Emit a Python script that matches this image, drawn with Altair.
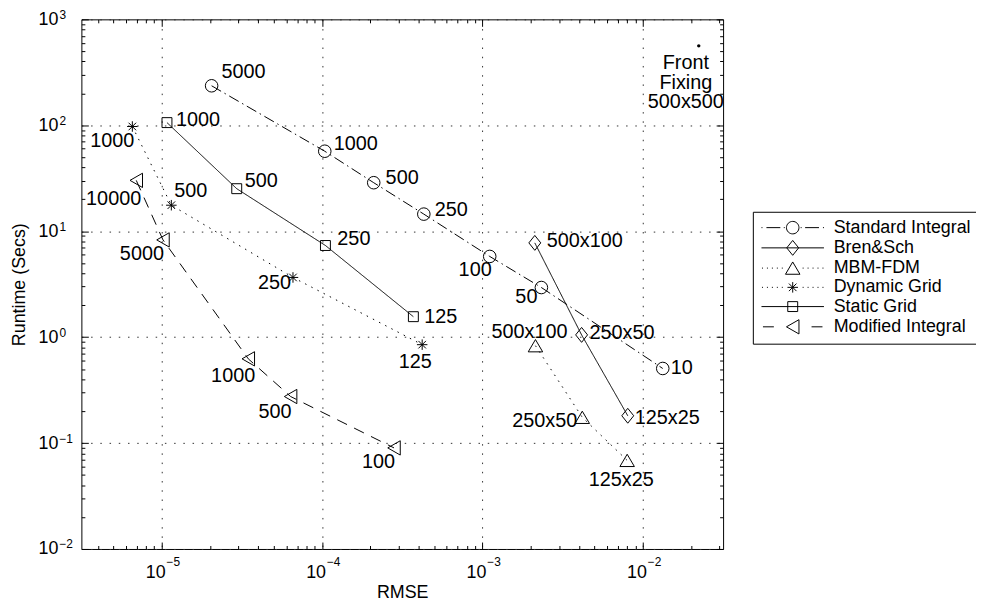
import math
import altair as alt
import pandas as pd

# ---------------- data ----------------
SERIES = ["Standard Integral", "Bren&Sch", "MBM-FDM", "Dynamic Grid", "Static Grid", "Modified Integral"]

STD_RMSE = [2.05e-5, 1.04e-4, 2.10e-4, 4.31e-4, 1.11e-3, 2.33e-3, 1.33e-2]
STD_TIME = [236, 56.9, 28.7, 14.5, 5.78, 2.94, 0.506]
STD_LABELS = ["5000", "1000", "500", "250", "100", "50", "10"]

BREN_RMSE = [2.12e-3, 4.15e-3, 8.05e-3]
BREN_TIME = [7.76, 1.05, 0.181]
BREN_LABELS = ["500x100", "250x50", "125x25"]

MBM_RMSE = [2.14e-3, 4.19e-3, 7.98e-3]
MBM_TIME = [0.83, 0.175, 0.0686]
MBM_LABELS = ["500x100", "250x50", "125x25"]

DYN_RMSE = [6.57e-6, 1.15e-5, 6.59e-5, 4.21e-4]
DYN_TIME = [97.4, 17.6, 3.66, 0.849]
DYN_LABELS = ["1000", "500", "250", "125"]

STATIC_RMSE = [1.08e-5, 2.94e-5, 1.05e-4, 3.71e-4]
STATIC_TIME = [106, 25.2, 7.33, 1.56]
STATIC_LABELS = ["1000", "500", "250", "125"]

MOD_RMSE = [6.95e-6, 1.02e-5, 3.47e-5, 6.37e-5, 2.81e-4]
MOD_TIME = [30.2, 8.28, 0.624, 0.275, 0.090]
MOD_LABELS = ["10000", "5000", "1000", "500", "100"]

FRONT_RMSE = [2.23e-2]
FRONT_TIME = [562]
FRONT_LABEL = ["Front\nFixing\n500x500"]

X_DECADES = [1e-5, 1e-4, 1e-3, 1e-2]
X_EXPONENTS = ["\u22125", "\u22124", "\u22123", "\u22122"]
Y_DECADES = [1e-2, 1e-1, 1, 10, 100, 1000]
Y_EXPONENTS = ["\u22122", "\u22121", "0", "1", "2", "3"]

# ---------------- styling (label placement: align, dx, dy in px) ----------------
PLACEMENT = {
    "Standard Integral": [("left", 10, -14), ("left", 9, -7), ("left", 12, -5), ("left", 11, -4),
                          ("right", 2, 14), ("right", -4, 10), ("left", 8, 0)],
    "Bren&Sch": [("left", 12, -2), ("left", 8, -2), ("left", 7, 2)],
    "MBM-FDM": [("center", -6, -14), ("right", -5, 4), ("center", -6, 20)],
    "Dynamic Grid": [("right", 2, 15), ("left", 3, -14), ("right", -2, 6), ("center", -7, 18)],
    "Static Grid": [("left", 9, -3), ("left", 8, -8), ("left", 12, -7), ("left", 11, 0)],
    "Modified Integral": [("right", 5, 19), ("right", 1, 14), ("right", 7, 17), ("right", 1, 16), ("right", 1, 14)],
}

FONT = "Liberation Sans"
PLOT_W, PLOT_H = 647, 534
X_DOMAIN = [10 ** -5.5, 10 ** -1.5]
Y_DOMAIN = [1e-2, 1e3]
PX_PER_DEC_X = PLOT_W / (math.log10(X_DOMAIN[1]) - math.log10(X_DOMAIN[0]))
PX_PER_DEC_Y = PLOT_H / (math.log10(Y_DOMAIN[1]) - math.log10(Y_DOMAIN[0]))

SOURCES = [
    (SERIES[0], STD_RMSE, STD_TIME, STD_LABELS),
    (SERIES[1], BREN_RMSE, BREN_TIME, BREN_LABELS),
    (SERIES[2], MBM_RMSE, MBM_TIME, MBM_LABELS),
    (SERIES[3], DYN_RMSE, DYN_TIME, DYN_LABELS),
    (SERIES[4], STATIC_RMSE, STATIC_TIME, STATIC_LABELS),
    (SERIES[5], MOD_RMSE, MOD_TIME, MOD_LABELS),
]
rows = []
for name, xs, ys, labs in SOURCES:
    for i, (xv, yv, lab) in enumerate(zip(xs, ys, labs)):
        al, dx, dy = PLACEMENT[name][i]
        rows.append({"series": name, "rmse": xv, "time": yv, "label": lab,
                     "align": al, "dx": dx, "dy": dy, "idx": i})
df = pd.DataFrame(rows)
df_front = pd.DataFrame({"rmse": FRONT_RMSE, "time": FRONT_TIME, "label": FRONT_LABEL})
df_series = pd.DataFrame({"series": SERIES})

# ---------------- marker shapes (pixel geometry -> vega unit paths) ----------------
SYM_SIZE = 160
U = math.sqrt(SYM_SIZE) / 2.0


def n(v):
    return f"{v / U:.4f}"


def poly(pts):
    return "M" + "L".join(f"{n(x)},{n(y)}" for x, y in pts) + "Z"


def segs(pairs):
    return "".join(f"M{n(a[0])},{n(a[1])}L{n(b[0])},{n(b[1])}" for a, b in pairs)


def hseg(x1, x2):
    return segs([((x1, 0), (x2, 0))])


def circ(r):
    return (f"M{n(-r)},0A{n(r)},{n(r)} 0 1,0 {n(r)},0"
            f"A{n(r)},{n(r)} 0 1,0 {n(-r)},0")


DIAMOND = poly([(0, -7.5), (6, 0), (0, 7.5), (-6, 0)])
TRI_UP = poly([(0, -6.2), (7.3, 6.2), (-7.3, 6.2)])
TRI_LEFT = poly([(-6.3, 0), (6.3, -7.2), (6.3, 7.2)])
SQUARE = poly([(-5, -5), (5, -5), (5, 5), (-5, 5)])
ASTER = segs([((0, -5.3), (0, 5.3)), ((-5.3, 0), (5.3, 0)),
              ((-3.8, -3.8), (3.8, 3.8)), ((-3.8, 3.8), (3.8, -3.8))])
CIRCLE = circ(6.3)

PLOT_SHAPES = ["circle", DIAMOND, TRI_UP, ASTER, SQUARE, TRI_LEFT]

DOTS = "".join(hseg(s * d - 0.5, s * d + 0.5) for d in (10.5, 15.5, 20.5, 25.5, 30.5) for s in (-1, 1))
LEGEND_SHAPES = [
    hseg(-31.5, -30.5) + hseg(-26.5, -12.5) + hseg(-9, -8) + hseg(8, 9) + hseg(12.5, 26.5) + hseg(30.5, 31.5) + CIRCLE,
    hseg(-31.5, 31.5) + DIAMOND,
    DOTS + TRI_UP,
    DOTS + ASTER,
    hseg(-31.5, 31.5) + SQUARE,
    hseg(-30, -19) + hseg(19, 30) + TRI_LEFT,
]
DASHES = [[11, 4, 1.5, 4], [1, 0], [1.5, 5.5], [1.5, 5.5], [1, 0], [11, 8]]

# ---------------- scales & axes ----------------
X_SCALE = alt.Scale(type="log", domain=X_DOMAIN, nice=False)
Y_SCALE = alt.Scale(type="log", domain=Y_DOMAIN, nice=False)


def minor(decade_exps, lo, hi):
    out = []
    for e in decade_exps:
        for k in range(2, 10):
            v = k * 10.0 ** e
            if lo < v < hi:
                out.append(v)
    return out


X_MINOR = minor(range(-6, -1), *X_DOMAIN)
Y_MINOR = minor(range(-2, 3), *Y_DOMAIN)


def exp_expr(values, exps):
    expr = f"'{exps[-1]}'"
    for v, e in reversed(list(zip(values[:-1], exps[:-1]))):
        expr = f"datum.value < {v * 3:.3g} ? '{e}' : ({expr})"
    return expr


def tick_axis(orient, values, size):
    return alt.Axis(orient=orient, values=values, ticks=True, tickSize=size, offset=-size,
                    tickColor="black", tickWidth=1, labels=False, domain=False,
                    grid=False, title=None)


GRID = dict(grid=True, gridColor="#333333", gridDash=[1.5, 7.8], gridWidth=1, gridOpacity=1)
LBL = dict(labelFont=FONT, labelColor="black", labelOverlap=False, labelFlush=False,
           ticks=False, tickSize=0, domain=False)

X_LABEL_AXIS = alt.Axis(orient="bottom", values=X_DECADES, labelExpr="'10'", labelFontSize=18,
                        labelPadding=14.5, labelOffset=-6.5, labelBaseline="top", labelAlign="center",
                        title="RMSE", titleFont=FONT, titleFontSize=18, titleFontWeight="normal",
                        titleColor="black", titlePadding=2, **GRID, **LBL)
X_EXP_AXIS = alt.Axis(orient="bottom", values=X_DECADES, labelExpr=exp_expr(X_DECADES, X_EXPONENTS),
                      labelFontSize=12, labelPadding=8, labelOffset=4.4, labelBaseline="top",
                      labelAlign="left", grid=False, title=None, **LBL)
Y_LABEL_AXIS = alt.Axis(orient="left", values=Y_DECADES, labelExpr="'10'", labelFontSize=18,
                        labelPadding=23.7, labelAlign="right", labelBaseline="middle",
                        title="Runtime (Secs)", titleFont=FONT, titleFontSize=18, titleFontWeight="normal",
                        titleColor="black", titlePadding=10, **GRID, **LBL)
Y_EXP_AXIS = alt.Axis(orient="left", values=Y_DECADES, labelExpr=exp_expr(Y_DECADES, Y_EXPONENTS),
                      labelFontSize=12, labelPadding=22.7, labelOffset=-5, labelAlign="left",
                      labelBaseline="middle", grid=False, title=None, **LBL)

# ---------------- layers ----------------
base = alt.Chart(df)


def xy(xaxis, yaxis, xf="rmse", yf="time"):
    return dict(x=alt.X(f"{xf}:Q", scale=X_SCALE, axis=xaxis),
                y=alt.Y(f"{yf}:Q", scale=Y_SCALE, axis=yaxis))


lines = base.mark_line(color="black", strokeWidth=1).encode(
    **xy(X_LABEL_AXIS, Y_LABEL_AXIS),
    detail="series:N",
    strokeDash=alt.StrokeDash("series:N", scale=alt.Scale(domain=SERIES, range=DASHES), legend=None),
    order="idx:Q",
)

points = base.mark_point(filled=False, opacity=1, size=SYM_SIZE, strokeWidth=1, color="black").encode(
    **xy(X_EXP_AXIS, Y_EXP_AXIS),
    shape=alt.Shape("series:N", scale=alt.Scale(domain=SERIES, range=PLOT_SHAPES), legend=None),
)


def label_layer(al, xaxis, yaxis):
    # pixel offsets converted through the log scales' pixels-per-decade
    return base.transform_filter(alt.datum.align == al).transform_calculate(
        lx=f"datum.rmse * pow(10, datum.dx / {PX_PER_DEC_X})",
        ly=f"datum.time * pow(10, -datum.dy / {PX_PER_DEC_Y})",
    ).mark_text(
        font=FONT, fontSize=20, color="black", align=al, baseline="middle"
    ).encode(
        **xy(xaxis, yaxis, "lx", "ly"),
        text="label:N",
    )


lab_left = label_layer("left", tick_axis("bottom", X_DECADES, 7), tick_axis("left", Y_DECADES, 7))
lab_right = label_layer("right", tick_axis("bottom", X_MINOR, 3.5), tick_axis("left", Y_MINOR, 3.5))
lab_center = label_layer("center", tick_axis("top", X_DECADES, 7), tick_axis("right", Y_DECADES, 7))

front_dot = alt.Chart(df_front).mark_circle(size=12, color="black", opacity=1).encode(
    **xy(tick_axis("top", X_MINOR, 3.5), tick_axis("right", Y_MINOR, 3.5)))
front_text = alt.Chart(df_front).mark_text(
    font=FONT, fontSize=20, lineHeight=20, color="black", align="center", baseline="top",
    lineBreak="\n", dx=-13, dy=7).encode(**xy(None, None), text="label:N")

legend_layer = alt.Chart(df_series).transform_filter("false").mark_point(
    filled=False, opacity=1, size=SYM_SIZE, strokeWidth=1, color="black"
).encode(
    shape=alt.Shape("series:N", scale=alt.Scale(domain=SERIES, range=LEGEND_SHAPES),
                    legend=alt.Legend(title=None, orient="none", legendX=677, legendY=194,
                                      padding=7, strokeColor="black", fillColor="white",
                                      labelFont=FONT, labelFontSize=18, labelColor="black",
                                      labelLimit=400, rowPadding=1.4,
                                      symbolSize=SYM_SIZE, symbolStrokeColor="black",
                                      symbolFillColor="transparent", symbolStrokeWidth=1,
                                      symbolOpacity=1, symbolOffset=24.2, labelOffset=32.3)),
)

chart = alt.layer(
    lines, points, lab_left, lab_right, lab_center, front_dot, front_text, legend_layer
).resolve_scale(
    shape="independent"
).resolve_axis(
    x="independent", y="independent"
).properties(
    width=PLOT_W, height=PLOT_H,
    autosize=alt.AutoSizeParams(type="none"),
    padding={"left": 74, "top": 9, "right": 255, "bottom": 51},
    background="white",
).configure_view(stroke="black", strokeWidth=1)

chart.save("out.html", embed_options={"renderer": "svg", "actions": False})
